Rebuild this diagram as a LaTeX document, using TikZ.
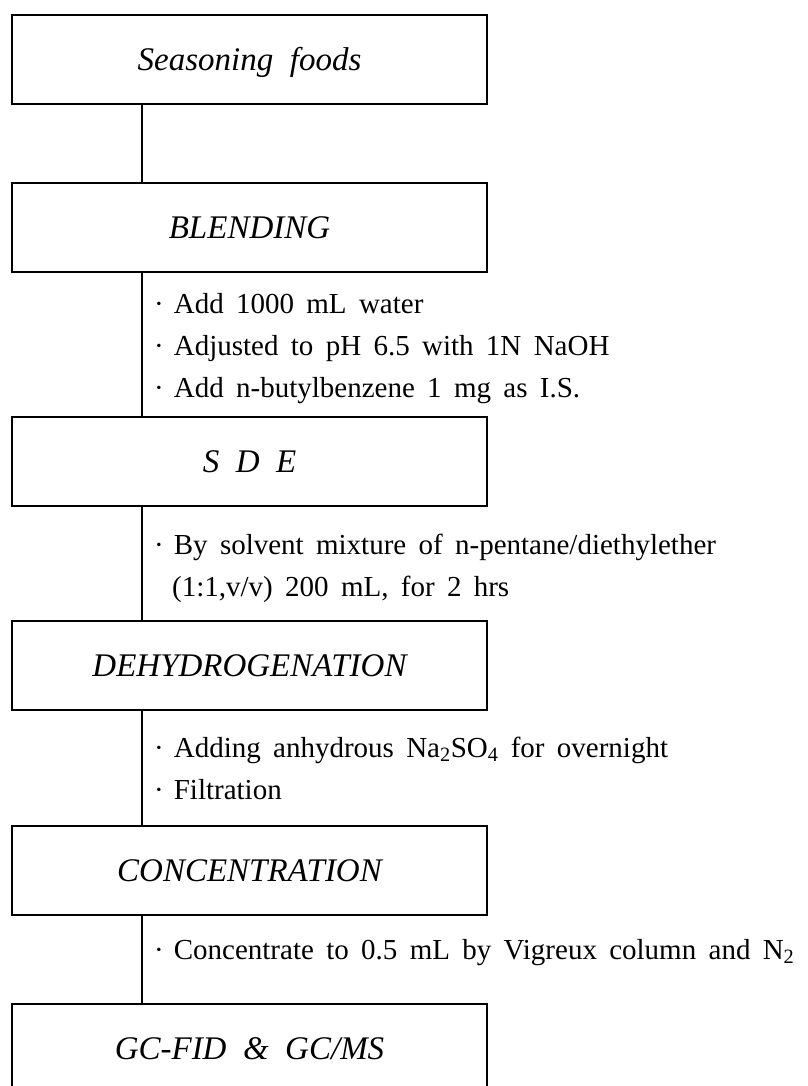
\documentclass[tikz,border=0pt]{standalone}
\usepackage{fontspec}
\setmainfont{Liberation Serif}[WordSpace=2]
\newfontfamily\notefont{Liberation Serif}[WordSpace=1.7]
\newcommand\dotitem{·\hspace{10pt}}
\usetikzlibrary{positioning}

\begin{document}
\begin{tikzpicture}[%
      x=1pt, y=-1pt,
      stage/.style={rectangle, draw, line width=2pt, minimum width=475pt, minimum height=89pt,
        inner sep=0pt, text height=22pt, text depth=0pt, font=\fontsize{33}{40}\selectfont\itshape},
      note/.style={anchor=base west, inner sep=0pt, font=\notefont\fontsize{29}{35}\selectfont},
      link/.style={line width=2pt}
    ]
    \useasboundingbox (0,0) rectangle (807,1086);
    % stages
    \node [stage] (b1) at (249.5,59.5) {Seasoning foods};
    \node [stage, below=77pt of b1] (b2) {BLENDING};
    \node [stage, below=143pt of b2] (b3) {S D E};
    \node [stage, below=113pt of b3] (b4) {DEHYDROGENATION};
    \node [stage, below=114pt of b4] (b5) {CONCENTRATION};
    \node [stage, below=87pt of b5] (b6) {GC-FID \& GC/MS};
    \foreach \a/\b in {b1/b2, b2/b3, b3/b4, b4/b5, b5/b6}
      \draw [link] ([xshift=131pt]\a.south west) -- ([xshift=131pt]\b.north west);
    % conditions
    \node [note] (n1) at (154,313) {\dotitem Add 1000 mL water};
    \node [note] (n2) at (154,355) {\dotitem Adjusted to pH 6.5 with 1N NaOH};
    \node [note] (n3) at (154,397) {\dotitem Add n-butylbenzene 1 mg as I.S.};
    \node [note] (n4) at (154,554) {\dotitem By solvent mixture of n-pentane/diethylether};
    \node [note] (n5) at (172,596) {(1:1,v/v) 200 mL, for 2 hrs};
    \node [note] (n6) at (154,757) {\dotitem Adding anhydrous Na\textsubscript{2}SO\textsubscript{4} for overnight};
    \node [note] (n7) at (154,799) {\dotitem Filtration};
    \node [note] (n8) at (154,959) {\dotitem Concentrate to 0.5 mL by Vigreux column and N\textsubscript{2}};
  \end{tikzpicture}
\end{document}
